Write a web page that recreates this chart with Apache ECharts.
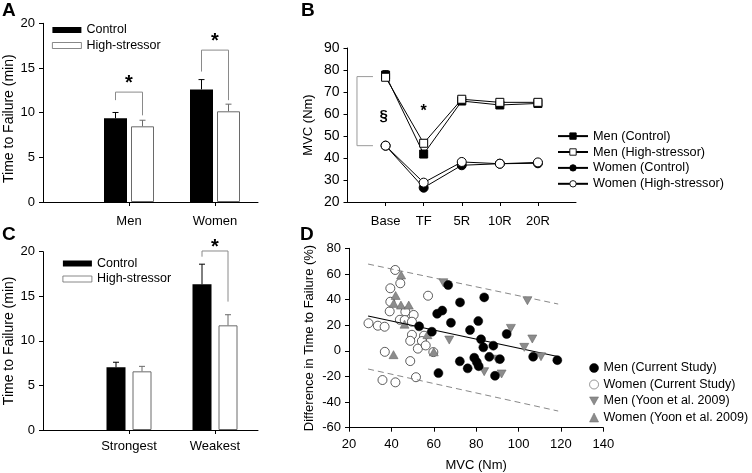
<!DOCTYPE html>
<html>
<head>
<meta charset="utf-8">
<script src="https://cdn.jsdelivr.net/npm/echarts@6/dist/echarts.min.js"></script>
<style>html,body{margin:0;padding:0;background:#fff}#c{width:752px;height:473px}</style>
</head>
<body>
<div id="c"></div>
<script>
// ---------- Panel A ----------
const groupsA = ['Men', 'Women'];
const ctrlA = [9.37, 12.6];
const ctrlErrA = [0.65, 1.1];
const hsA = [8.47, 10.15];
const hsErrA = [0.68, 0.8];
const sigTopA = [12.3, 17.0];
const sigLeftEndA = [11.4, 14.6];
const sigRightEndA = [9.7, 11.4];

// ---------- Panel B ----------
const timepoints = ['Base', 'TF', '5R', '10R', '20R'];
const menCtrl = [77.7, 41.8, 65.9, 64.1, 64.8];
const menCtrlErr = [2.0, 1.4, 1.2, 1.2, 1.2];
const menHS = [76.7, 46.7, 66.7, 65.3, 65.3];
const menHSErr = [1.6, 1.5, 1.2, 1.2, 1.2];
const womenCtrl = [45.6, 26.5, 36.7, 37.4, 37.6];
const womenCtrlErr = [1.4, 1.2, 1.2, 1.2, 1.2];
const womenHS = [45.6, 28.8, 38.2, 37.4, 38.0];
const womenHSErr = [1.4, 1.2, 1.2, 1.2, 1.2];
const bracketB = [77.0, 45.6];
const marksB = [{at: 'Base', value: 59.1, text: '\u00A7'}, {at: 'TF', value: 61.0, text: '*'}];

// ---------- Panel C ----------
const groupsC = ['Strongest', 'Weakest'];
const ctrlC = [7.03, 16.34];
const ctrlErrC = [0.57, 2.26];
const hsC = [6.58, 11.74];
const hsErrC = [0.56, 1.19];
const sigTopC = [null, 20.08];
const sigLeftEndC = [null, 19.44];
const sigRightEndC = [null, 14.4];

// ---------- Panel D ----------
const menCurrent = [
  [66.8, 51.3], [83.8, 41.7], [72.4, 37.8], [64.0, 31.4], [61.6, 28.9], [68.1, 21.9],
  [81.0, 23.2], [77.1, 16.2], [94.4, 13.1], [82.3, 9.0], [83.4, 2.7], [88.1, 4.0],
  [86.2, -4.7], [91.2, -6.5], [79.1, -5.4], [80.3, -8.8], [81.2, -12.0], [72.3, -8.2],
  [76.0, -13.7], [88.9, -19.5], [106.9, -4.6], [118.3, -7.3], [53.1, 19.1], [59.1, 14.9],
  [62.2, -17.4]
];
const womenCurrent = [
  [41.8, 63.1], [44.2, 52.7], [39.5, 48.8], [57.3, 43.0], [39.5, 38.3], [39.2, 30.8],
  [46.6, 30.5], [50.5, 28.0], [44.0, 24.2], [46.3, 24.0], [49.7, 22.7], [29.2, 21.5],
  [33.6, 19.6], [36.8, 18.8], [49.7, 12.5], [55.4, 11.8], [48.9, 7.8], [54.4, 7.6],
  [52.5, 1.7], [36.9, -0.8], [59.8, -1.0], [48.9, -8.0], [35.8, -22.8], [41.9, -24.6],
  [51.6, -20.6], [56.2, 4.2]
];
const menYoon = [
  [64.5, 53.1], [104.2, 39.1], [96.4, 17.5], [67.3, 8.4], [106.5, 9.2], [102.7, 2.7],
  [110.6, -4.6], [89.7, -6.6], [83.8, -16.3], [92.0, -18.1]
];
const womenYoon = [
  [44.6, 59.2], [42.0, 43.2], [41.1, 37.0], [44.5, 35.7], [48.2, 35.7], [46.2, 20.8],
  [57.0, 12.6], [41.0, -3.0], [60.0, -0.8]
];
const fitLine = [[29, 27.2], [119, -4.6]];
const upperBand = [[29, 67.7], [118.7, 36.5]];
const lowerBand = [[29, -14.2], [118.7, -47.0]];

// ---------- layout helpers ----------
const FONT = 'Liberation Sans, Arial, Helvetica, sans-serif';
const posA = groupsA.map((g, i) => 2 * i + 2);   // category slots on a 0..5 axis
const posC = groupsC.map((g, i) => 2 * i + 2);
const posB = timepoints.map((t, i) => i + 1);    // slots on a 0..6 axis

function slotLabel(positions, labels) {
  return v => { const k = positions.indexOf(v); return k >= 0 ? labels[k] : ''; };
}

function axisBase(extra) {
  return Object.assign({
    axisLine: {show: true, onZero: false, lineStyle: {color: '#000', width: 1}},
    axisTick: {show: true, length: 4, lineStyle: {color: '#000'}},
    splitLine: {show: false},
    nameMoveOverlap: false
  }, extra);
}

function errRender(offset, color) {
  return function (params, api) {
    const b = api.coord([api.value(0), api.value(1)]);
    const t = api.coord([api.value(0), api.value(2)]);
    const x = b[0] + offset;
    return {type: 'group', children: [
      {type: 'line', shape: {x1: x, y1: b[1], x2: x, y2: t[1]}, style: {stroke: color, lineWidth: 1}},
      {type: 'line', shape: {x1: x - 3, y1: t[1], x2: x + 3, y2: t[1]}, style: {stroke: color, lineWidth: 1}}
    ]};
  };
}

function bracketRender(half, starSize, starGap) {
  return function (params, api) {
    if (api.value(1) == null || isNaN(api.value(1))) return null;
    const top = api.coord([api.value(0), api.value(1)]);
    const l = api.coord([api.value(0), api.value(2)]);
    const r = api.coord([api.value(0), api.value(3)]);
    const x = top[0];
    return {type: 'group', children: [
      {type: 'polyline', shape: {points: [[x - half, l[1]], [x - half, top[1]], [x + half, top[1]], [x + half, r[1]]]},
        style: {stroke: '#8a8a8a', lineWidth: 1, fill: null}},
      {type: 'text', style: {text: '*', x: x, y: top[1] - starGap, align: 'center', verticalAlign: 'middle',
        textAlign: 'center', textVerticalAlign: 'middle', fontSize: starSize, fontWeight: 'bold', fontFamily: FONT, fill: '#000'}}
    ]};
  };
}

function barPanel(xi, pos, ctrl, ctrlErr, hs, hsErr, sigTop, sigL, sigR, bw, gap, starGap) {
  const half = (bw + gap) / 2;
  return [
    {type: 'bar', name: 'Control', xAxisIndex: xi, yAxisIndex: xi, barWidth: bw, barGap: (gap / bw * 100) + '%',
      data: pos.map((p, i) => [p, ctrl[i]]), itemStyle: {color: '#000'}, silent: true},
    {type: 'bar', name: 'High-stressor', xAxisIndex: xi, yAxisIndex: xi, barWidth: bw, barGap: (gap / bw * 100) + '%',
      data: pos.map((p, i) => [p, hs[i]]), itemStyle: {color: '#fff', borderColor: '#6a6a6a', borderWidth: 1}, silent: true},
    {type: 'custom', xAxisIndex: xi, yAxisIndex: xi, clip: false, z: 3, silent: true,
      renderItem: errRender(-half, '#000'), data: pos.map((p, i) => [p, ctrl[i], ctrl[i] + ctrlErr[i]])},
    {type: 'custom', xAxisIndex: xi, yAxisIndex: xi, clip: false, z: 3, silent: true,
      renderItem: errRender(half, '#6a6a6a'), data: pos.map((p, i) => [p, hs[i], hs[i] + hsErr[i]])},
    {type: 'custom', xAxisIndex: xi, yAxisIndex: xi, clip: false, z: 4, silent: true,
      renderItem: bracketRender(half, 20, starGap), data: pos.map((p, i) => [p, sigTop[i], sigL[i], sigR[i]])}
  ];
}

const seriesB = [
  {n: 'Men (Control)', d: menCtrl, e: menCtrlErr, sym: 'rect', size: 8, fill: '#000'},
  {n: 'Men (High-stressor)', d: menHS, e: menHSErr, sym: 'rect', size: 8, fill: '#fff'},
  {n: 'Women (Control)', d: womenCtrl, e: womenCtrlErr, sym: 'circle', size: 9, fill: '#000'},
  {n: 'Women (High-stressor)', d: womenHS, e: womenHSErr, sym: 'circle', size: 9, fill: '#fff'}
];

const series = [].concat(
  barPanel(0, posA, ctrlA, ctrlErrA, hsA, hsErrA, sigTopA, sigLeftEndA, sigRightEndA, 23, 4, 9),
  barPanel(2, posC, ctrlC, ctrlErrC, hsC, hsErrC, sigTopC, sigLeftEndC, sigRightEndC, 19, 7, 3.5),
  seriesB.map(s => ({type: 'custom', xAxisIndex: 1, yAxisIndex: 1, clip: false, z: 1, silent: true,
    renderItem: errRender(0, '#000'), data: s.d.map((v, i) => [posB[i], v, v + s.e[i]])})),
  seriesB.map(s => ({type: 'line', name: s.n, xAxisIndex: 1, yAxisIndex: 1, z: 2, silent: true,
    symbol: s.sym, symbolSize: s.size, showAllSymbol: true,
    data: s.d.map((v, i) => [posB[i], v]),
    lineStyle: {color: '#000', width: 1},
    itemStyle: {color: s.fill, borderColor: '#000', borderWidth: 1}})),
  [
    {type: 'custom', xAxisIndex: 1, yAxisIndex: 1, clip: false, silent: true,
      renderItem: function (params, api) {
        const t = api.coord([api.value(0), api.value(1)]);
        const b = api.coord([api.value(0), api.value(2)]);
        const x1 = t[0] - 28.6, x2 = t[0] - 12.6;
        return {type: 'polyline', shape: {points: [[x2, t[1]], [x1, t[1]], [x1, b[1]], [x2, b[1]]]},
          style: {stroke: '#9a9a9a', lineWidth: 1, fill: null}};
      },
      data: [[posB[0], bracketB[0], bracketB[1]]]},
    {type: 'custom', xAxisIndex: 1, yAxisIndex: 1, clip: false, silent: true,
      renderItem: function (params, api) {
        const p = api.coord([api.value(0), api.value(1)]);
        const m = marksB[params.dataIndex];
        return {type: 'text', style: {text: m.text, x: p[0] - (m.text === '*' ? 0 : 2), y: p[1],
          align: 'center', verticalAlign: 'middle', textAlign: 'center', textVerticalAlign: 'middle',
          fontSize: m.text === '*' ? 16 : 15, fontWeight: 'bold', fontFamily: FONT, fill: '#000'}};
      },
      data: marksB.map(m => [posB[timepoints.indexOf(m.at)], m.value])}
  ],
  [
    {type: 'line', name: 'upper', xAxisIndex: 3, yAxisIndex: 3, data: upperBand, symbol: 'none', silent: true,
      lineStyle: {color: '#7a7a7a', width: 0.9, type: [6, 4]}},
    {type: 'line', name: 'lower', xAxisIndex: 3, yAxisIndex: 3, data: lowerBand, symbol: 'none', silent: true,
      lineStyle: {color: '#7a7a7a', width: 0.9, type: [6, 4]}},
    {type: 'scatter', name: 'Women (Current Study)', xAxisIndex: 3, yAxisIndex: 3, data: womenCurrent, symbol: 'circle', symbolSize: 9,
      itemStyle: {color: '#fff', borderColor: '#333', borderWidth: 0.8, opacity: 1}, silent: true, z: 2},
    {type: 'scatter', name: 'Women (Yoon et al. 2009)', xAxisIndex: 3, yAxisIndex: 3, data: womenYoon, symbol: 'triangle', symbolSize: [9, 8],
      itemStyle: {color: '#8c8c8c', borderColor: '#666', borderWidth: 0.6, opacity: 1}, silent: true, z: 3},
    {type: 'scatter', name: 'Men (Yoon et al. 2009)', xAxisIndex: 3, yAxisIndex: 3, data: menYoon, symbol: 'path://M0,0L10,0L5,9Z', symbolSize: [9, 8],
      itemStyle: {color: '#8c8c8c', borderColor: '#666', borderWidth: 0.6, opacity: 1}, silent: true, z: 4},
    {type: 'line', name: 'fit', xAxisIndex: 3, yAxisIndex: 3, data: fitLine, symbol: 'none', silent: true, z: 4,
      lineStyle: {color: '#000', width: 1.1}},
    {type: 'scatter', name: 'Men (Current Study)', xAxisIndex: 3, yAxisIndex: 3, data: menCurrent, symbol: 'circle', symbolSize: 9,
      itemStyle: {color: '#000', borderColor: '#000', borderWidth: 0.5, opacity: 1}, silent: true, z: 5}
  ]
);

const lbl = {color: '#000', fontFamily: FONT};

const option = {
  animation: false,
  backgroundColor: '#fff',
  textStyle: {fontFamily: FONT, color: '#000'},
  title: [
    {text: 'A', left: 2, top: 1, padding: 0, textStyle: {fontSize: 19, fontWeight: 'bold', color: '#000', fontFamily: FONT}},
    {text: 'B', left: 301, top: 1, padding: 0, textStyle: {fontSize: 19, fontWeight: 'bold', color: '#000', fontFamily: FONT}},
    {text: 'C', left: 2, top: 225, padding: 0, textStyle: {fontSize: 19, fontWeight: 'bold', color: '#000', fontFamily: FONT}},
    {text: 'D', left: 300, top: 225, padding: 0, textStyle: {fontSize: 19, fontWeight: 'bold', color: '#000', fontFamily: FONT}}
  ],
  grid: [
    {left: 43, top: 23.3, width: 215, height: 178.7, containLabel: false, outerBoundsMode: 'none'},
    {left: 347.5, top: 48, width: 228.5, height: 154, containLabel: false, outerBoundsMode: 'none'},
    {left: 43, top: 251.7, width: 215, height: 178.3, containLabel: false, outerBoundsMode: 'none'},
    {left: 349, top: 248.3, width: 254.3, height: 179.4, containLabel: false, outerBoundsMode: 'none'}
  ],
  xAxis: [
    axisBase({gridIndex: 0, type: 'value', min: 0, max: 5, interval: 1,
      axisTick: {show: true, length: 4, lineStyle: {color: '#000'}, customValues: posA},
      axisLabel: Object.assign({fontSize: 13, margin: 13, customValues: posA, formatter: slotLabel(posA, groupsA)}, lbl)}),
    axisBase({gridIndex: 1, type: 'value', min: 0, max: 6, interval: 1,
      axisTick: {show: true, length: 4, lineStyle: {color: '#000'}, customValues: posB},
      axisLabel: Object.assign({fontSize: 13, margin: 12.5, customValues: posB, formatter: slotLabel(posB, timepoints)}, lbl)}),
    axisBase({gridIndex: 2, type: 'value', min: 0, max: 5, interval: 1,
      axisTick: {show: true, length: 4, lineStyle: {color: '#000'}, customValues: posC},
      axisLabel: Object.assign({fontSize: 13, margin: 10, customValues: posC, formatter: slotLabel(posC, groupsC)}, lbl)}),
    axisBase({gridIndex: 3, type: 'value', min: 20, max: 140, interval: 20,
      name: 'MVC (Nm)', nameLocation: 'middle', nameGap: 31, nameTextStyle: Object.assign({fontSize: 13}, lbl),
      axisLabel: Object.assign({fontSize: 13, margin: 10}, lbl)})
  ],
  yAxis: [
    axisBase({gridIndex: 0, type: 'value', min: 0, max: 20, interval: 5,
      name: 'Time to Failure (min)', nameLocation: 'middle', nameGap: 27,
      nameTextStyle: Object.assign({fontSize: 14, padding: [0, 12, 0, 0]}, lbl),
      axisLabel: Object.assign({fontSize: 13, margin: 8}, lbl)}),
    axisBase({gridIndex: 1, type: 'value', min: 20, max: 90, interval: 10,
      name: 'MVC (Nm)', nameLocation: 'middle', nameGap: 33, nameTextStyle: Object.assign({fontSize: 13}, lbl),
      axisLabel: Object.assign({fontSize: 14, margin: 8}, lbl)}),
    axisBase({gridIndex: 2, type: 'value', min: 0, max: 20, interval: 5,
      name: 'Time to Failure (min)', nameLocation: 'middle', nameGap: 27, nameTextStyle: Object.assign({fontSize: 14}, lbl),
      axisLabel: Object.assign({fontSize: 13, margin: 8}, lbl)}),
    axisBase({gridIndex: 3, type: 'value', min: -60, max: 80, interval: 20,
      name: 'Difference in Time to Failure (%)', nameLocation: 'middle', nameGap: 33, nameTextStyle: Object.assign({fontSize: 13}, lbl),
      axisLabel: Object.assign({fontSize: 13, margin: 8}, lbl)})
  ],
  legend: [
    {data: ['Control', 'High-stressor'], orient: 'vertical', left: 52, top: 23.5, padding: 0, itemGap: 2.5,
      itemWidth: 29, itemHeight: 6, icon: 'rect', selectedMode: false, itemStyle: {borderWidth: 0.8},
      textStyle: Object.assign({fontSize: 12.5}, lbl)},
    {data: ['Control', 'High-stressor'], orient: 'vertical', left: 62.5, top: 257, padding: 0, itemGap: 2.5,
      itemWidth: 29, itemHeight: 6, icon: 'rect', selectedMode: false, itemStyle: {borderWidth: 0.8},
      textStyle: Object.assign({fontSize: 12.5}, lbl)},
    {data: seriesB.map(s => s.n), orient: 'vertical', left: 557, top: 129.6, padding: 0, itemGap: 2.9,
      itemWidth: 30, itemHeight: 8, selectedMode: false, itemStyle: {borderWidth: 0.9},
      textStyle: Object.assign({fontSize: 12.7}, lbl)},
    {data: ['Men (Current Study)', 'Women (Current Study)', 'Men (Yoon et al. 2009)', 'Women (Yoon et al. 2009)'],
      orient: 'vertical', left: 589.3, top: 361.5, padding: 0, itemGap: 3.5,
      itemWidth: 9, itemHeight: 9, selectedMode: false, itemStyle: {borderWidth: 0.5},
      textStyle: Object.assign({fontSize: 12.5}, lbl)}
  ],
  series: series
};

const chart = echarts.init(document.getElementById('c'), null, {renderer: 'canvas'});
chart.setOption(option);
</script>
</body>
</html>
